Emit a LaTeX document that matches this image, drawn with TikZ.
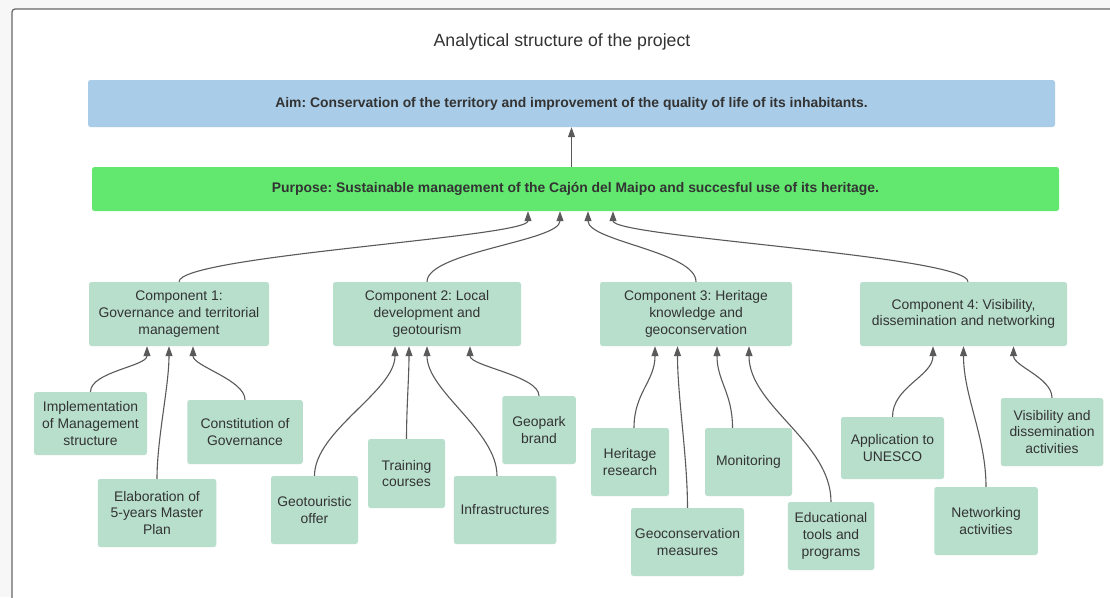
\documentclass[tikz,border=0pt]{standalone}
\usepackage{fontspec}
\setmainfont{Liberation Sans}
\usetikzlibrary{arrows.meta}
\definecolor{boxgreen}{HTML}{B7DFCC}
\definecolor{aimblue}{HTML}{A9CCE8}
\definecolor{purpgreen}{HTML}{62E86F}
\definecolor{txt}{HTML}{333333}
\definecolor{linegray}{HTML}{5A5A5A}
\frenchspacing
\tikzset{
  part/.style={fill=boxgreen, rounded corners=2.5pt, align=center, text=txt, inner sep=2pt,
    font=\fontsize{13.9}{16.8}\selectfont},
  bar/.style={rounded corners=2.5pt, text=txt, minimum width=967pt, inner sep=2pt,
    font=\bfseries\fontsize{13.9}{16.8}\selectfont},
  link/.style={draw=linegray, line width=1.1pt, -{Triangle[length=10pt,width=7pt]}}
}
\begin{document}
\begin{tikzpicture}[x=1pt,y=1pt]
\clip (0,0) rectangle (1110,-597);
\fill[black!3] (0,0) rectangle (1110,-597);
\draw[fill=white, draw=black!60, line width=1.2pt, rounded corners=3pt] (12,-9) rectangle (1130,-620);
\node[text=txt, font=\fontsize{17.7}{20}\selectfont] (title) at (562,-42) {Analytical structure of the project};
\node[bar, fill=aimblue, minimum height=47pt] (aim) at (571.5,-103.5) {Aim: Conservation of the territory and improvement of the quality of life of its inhabitants.};
\node[bar, fill=purpgreen, minimum height=44pt] (purp) at (575.5,-189) {Purpose: Sustainable management of the Cajón del Maipo and succesful use of its heritage.};
\draw[link] (purp.north -| aim.south) -- (aim.south);
% components
\node[part, minimum width=180pt, minimum height=64pt] (c1) at (179,-314) {Component 1:\\Governance and territorial\\management};
\node[part, minimum width=188pt, minimum height=64pt] (c2) at (427,-314) {Component 2: Local\\development and\\geotourism};
\node[part, minimum width=192pt, minimum height=64pt] (c3) at (696,-314) {Component 3: Heritage\\knowledge and\\geoconservation};
\node[part, minimum width=207pt, minimum height=64pt] (c4) at (963.5,-314) {Component 4: Visibility,\\dissemination and networking};
\draw[link] (c1.north) .. controls +(0,26) and +(0,-26) .. ([xshift=-47.5pt]purp.south);
\draw[link] (c2.north) .. controls +(0,30) and +(0,-30) .. ([xshift=-15.5pt]purp.south);
\draw[link] (c3.north) .. controls +(0,30) and +(0,-30) .. ([xshift=12.5pt]purp.south);
\draw[link] ([xshift=4.5pt]c4.north) .. controls +(0,26) and +(0,-26) .. ([xshift=37.5pt]purp.south);
% activities
\node[part, minimum width=113pt, minimum height=63pt] (impl) at (90.5,-423.5) {Implementation\\of Management\\structure};
\node[part, minimum width=118.5pt, minimum height=68pt] (elab) at (157,-513) {Elaboration of\\5-years Master\\Plan};
\node[part, minimum width=115.5pt, minimum height=64pt] (const) at (245,-432) {Constitution of\\Governance};
\node[part, minimum width=87pt, minimum height=68pt] (geot) at (314.5,-510) {Geotouristic\\offer};
\node[part, minimum width=77pt, minimum height=69pt] (train) at (406.5,-473.5) {Training\\courses};
\node[part, minimum width=102.5pt, minimum height=68pt] (infra) at (505,-510) {Infrastructures};
\node[part, minimum width=73.5pt, minimum height=68pt] (geopark) at (539,-430) {Geopark\\brand};
\node[part, minimum width=78pt, minimum height=68pt] (herit) at (630,-462) {Heritage\\research};
\node[part, minimum width=113pt, minimum height=68pt] (geocons) at (687.5,-542) {Geoconservation\\measures};
\node[part, minimum width=87pt, minimum height=68pt] (monit) at (748.5,-462) {Monitoring};
\node[part, minimum width=86.5pt, minimum height=68pt] (educ) at (831,-536) {Educational\\tools and\\programs};
\node[part, minimum width=103pt, minimum height=62pt] (appl) at (892.5,-448) {Application to\\UNESCO};
\node[part, minimum width=103.5pt, minimum height=68pt] (netw) at (986,-521) {Networking\\activities};
\node[part, minimum width=102.5pt, minimum height=68pt] (visib) at (1052,-432) {Visibility and\\dissemination\\activities};
\draw[link] (impl.north) .. controls +(0,20) and +(0,-20) .. ([xshift=-32pt]c1.south);
\draw[link] (elab.north) .. controls +(0,40) and +(0,-40) .. ([xshift=-10pt]c1.south);
\draw[link] (const.north) .. controls +(0,20) and +(0,-20) .. ([xshift=14pt]c1.south);
\draw[link] (geot.north) .. controls +(0,45) and +(0,-45) .. ([xshift=-32pt]c2.south);
\draw[link] (train.north) .. controls +(0,30) and +(0,-30) .. ([xshift=-18pt]c2.south);
\draw[link] ([xshift=-8pt]infra.north) .. controls +(0,45) and +(0,-45) .. (c2.south);
\draw[link] (geopark.north) .. controls +(0,20) and +(0,-20) .. ([xshift=43pt]c2.south);
\draw[link] ([xshift=4pt]herit.north) .. controls +(0,35) and +(0,-35) .. ([xshift=-41pt]c3.south);
\draw[link] (geocons.north) .. controls +(0,50) and +(0,-50) .. ([xshift=-18.5pt]c3.south);
\draw[link] ([xshift=-16pt]monit.north) .. controls +(0,35) and +(0,-35) .. ([xshift=21pt]c3.south);
\draw[link] (educ.north) .. controls +(0,60) and +(0,-60) .. ([xshift=53pt]c3.south);
\draw[link] (appl.north) .. controls +(0,30) and +(0,-30) .. ([xshift=-30.5pt]c4.south);
\draw[link] (netw.north) .. controls +(0,50) and +(0,-50) .. (c4.south);
\draw[link] (visib.north) .. controls +(0,20) and +(0,-20) .. ([xshift=50pt]c4.south);
\end{tikzpicture}
\end{document}
